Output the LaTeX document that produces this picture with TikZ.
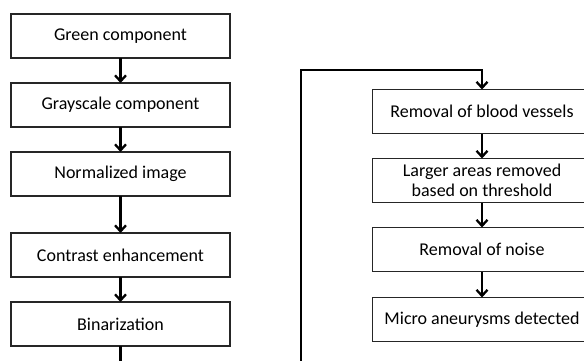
\documentclass[tikz,border=0pt]{standalone}
\usepackage{fontspec}
\setmainfont{Carlito}
\usetikzlibrary{arrows.meta, positioning}

\begin{document}
\begin{tikzpicture}[x=1pt,y=1pt,node distance=25pt,
  >={Straight Barb[length=6pt,width=11pt]},
  box style/.style={
    draw=black!85,
    line width=1.2pt,
    fill=white,
    rectangle,
    minimum width=219pt,
    minimum height=44pt,
    align=center,
    font=\fontsize{18}{20}\selectfont,
    inner sep=2pt,
    outer sep=0pt,
  },
  flow style/.style={
    line width=2.3pt,
    black
  }
]
\useasboundingbox (0,0) rectangle (584,-361);

\node[box style] (GC) at (120.5,-36) {Green component};

\node[box style, below=of GC] (GS) {Grayscale component}
 edge [<-,flow style] (GC);

\node[box style, below=of GS] (NI) {Normalized image}
 edge [<-,flow style] (GS);

\node[box style, below=37pt of NI] (CE) {Contrast enhancement}
 edge [<-,flow style] (NI);

\node[box style, below=of CE] (BI) {Binarization}
 edge [<-,flow style] (CE);

\node[box style] (RBV) at (482,-111.5) {Removal of blood vessels};

\node[box style, below=of RBV] (LA) {Larger areas removed\\based on threshold}
 edge [<-,flow style] (RBV);

\node[box style, below=of LA] (RN) {Removal of noise}
 edge [<-,flow style] (LA);

\node[box style, below=26pt of RN] (MA) {Micro aneurysms detected}
 edge [<-,flow style] (RN);

% loop back from binarization to the right column
\coordinate (low) at (301,-385);
\coordinate (top) at (301,-70);
\draw[->,flow style] (BI.south) |- (low) -- (top) -| (RBV.north);

\end{tikzpicture}
\end{document}
